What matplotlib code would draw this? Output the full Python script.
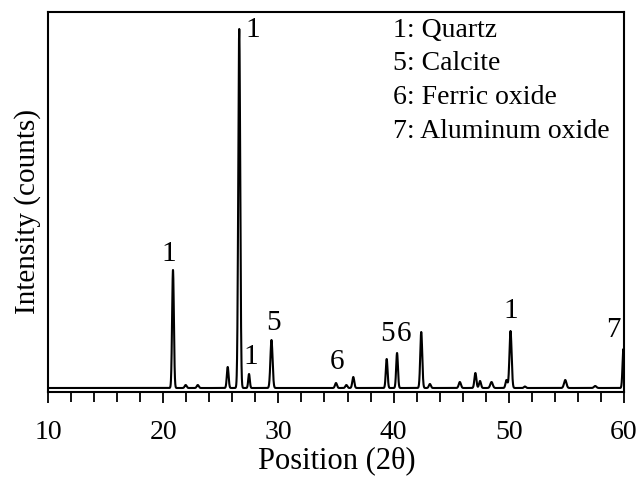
import numpy as np
import matplotlib
matplotlib.use("Agg")
import matplotlib.pyplot as plt

plt.rcParams['font.family'] = ['Liberation Serif', 'DejaVu Serif']

# diffraction peaks: position (2theta), height (counts, arbitrary), FWHM
peak_pos = [20.85, 21.95, 23.0, 25.6, 26.6, 27.45, 29.4, 35.0, 35.9, 36.5,
            39.4, 40.3, 42.4, 43.15, 45.75, 47.1, 47.5, 48.5, 49.8, 50.15,
            51.4, 54.9, 57.5, 59.95]
peak_height = [118, 3, 3, 21, 359, 14, 48, 5, 3, 11,
               29, 35, 56, 4, 6, 15, 7, 6, 8, 57,
               1.5, 8, 2, 39]
peak_fwhm = [0.18, 0.2, 0.2, 0.18, 0.2, 0.16, 0.22, 0.2, 0.2, 0.2,
             0.18, 0.18, 0.2, 0.2, 0.22, 0.2, 0.2, 0.25, 0.2, 0.22,
             0.2, 0.25, 0.25, 0.18]

# phase labels above peaks: text, 2theta, height
label_text = ['1', '1', '1', '5', '6', '5', '6', '1', '7']
label_x = [20.5, 27.75, 27.6, 29.6, 35.1, 39.5, 40.9, 50.2, 59.05]
label_y = [134, 358, 31, 65, 26, 54, 54, 77, 58]

legend_lines = ['1: Quartz', '5: Calcite', '6: Ferric oxide', '7: Aluminum oxide']

two_theta = np.linspace(10, 60, 5001)
intensity = np.zeros_like(two_theta)
for p, h, w in zip(peak_pos, peak_height, peak_fwhm):
    s = w / 2.355
    intensity += h * np.exp(-0.5 * ((two_theta - p) / s) ** 2)

fig = plt.figure(figsize=(6.44, 4.78), dpi=100)
ax = fig.add_axes([48 / 644, 86 / 478, 576 / 644, 380 / 478])
ax.plot(two_theta, intensity, color='black', lw=1.5)

ax.set_xlim(10, 60)
ax.set_ylim(-4, 376)
ax.set_xticks(np.arange(10, 61, 10))
ax.set_xticks(np.arange(10, 61, 2), minor=True)
ax.set_yticks([])
ax.tick_params(axis='x', which='major', direction='out', length=8, width=1.3,
               labelsize=20, pad=12)
ax.tick_params(axis='x', which='minor', direction='out', length=7, width=1.3)
for sp in ax.spines.values():
    sp.set_linewidth(1.5)

for t, x, y in zip(label_text, label_x, label_y):
    ax.text(x, y, t, ha='center', va='center', fontsize=21)

for i, line in enumerate(legend_lines):
    fig.text(393 / 644, 1 - (37 + 33.5 * i) / 478, line, fontsize=20,
             ha='left', va='baseline')

fig.text(337 / 644, 1 - 468 / 478, 'Position (2θ)', fontsize=22,
         ha='center', va='baseline')
fig.text(28 / 644, 1 - 212 / 478, 'Intensity (counts)', fontsize=21,
         ha='center', va='center', rotation=90)

fig.savefig('out.png', dpi=100)
